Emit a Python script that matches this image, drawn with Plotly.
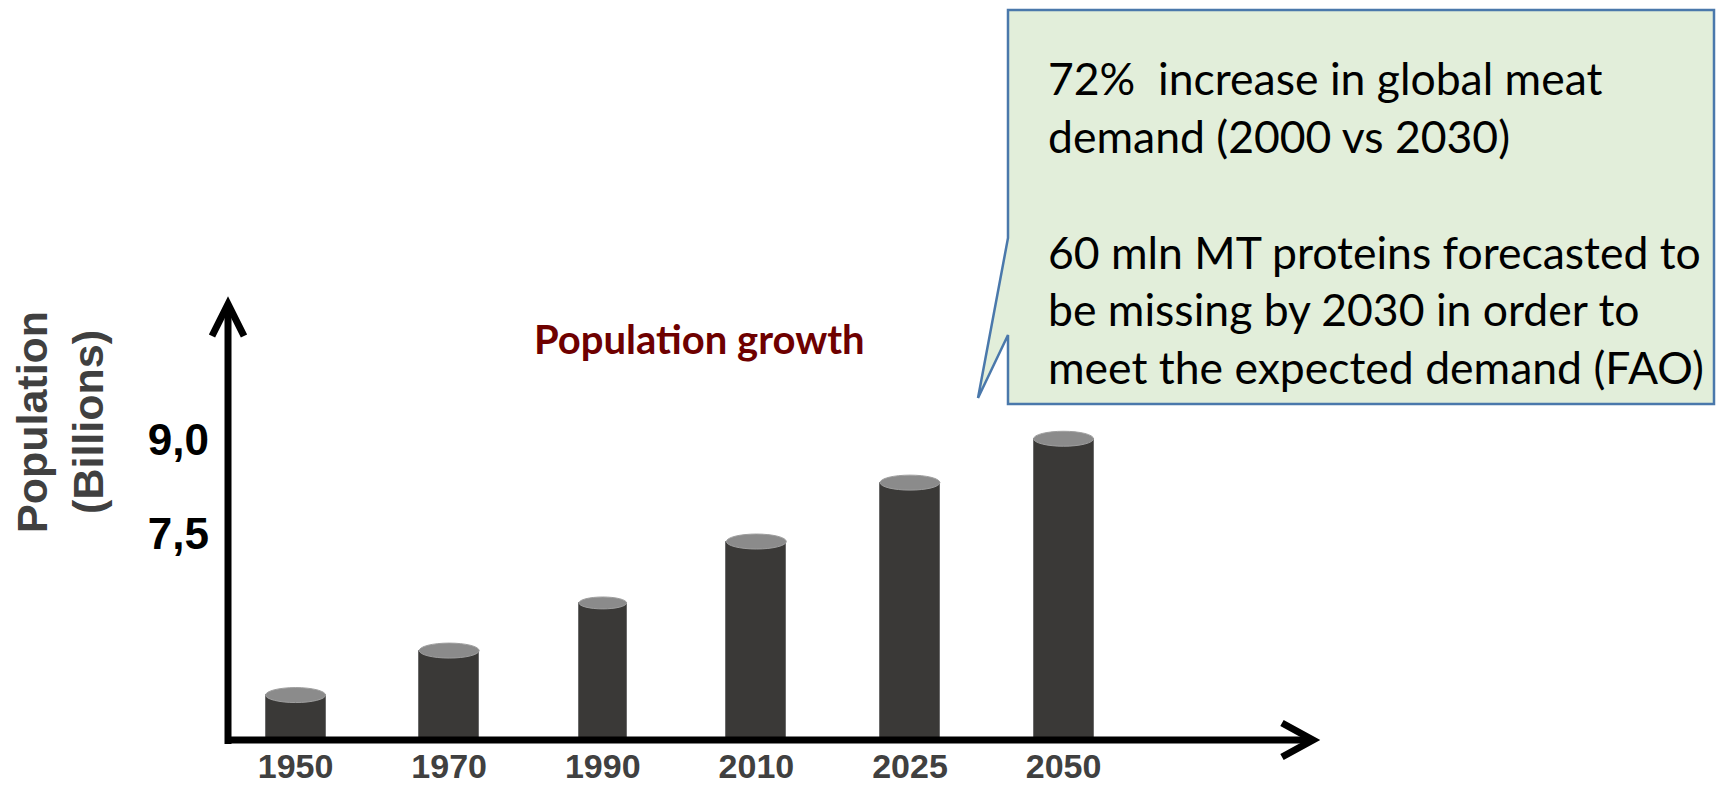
import plotly.graph_objects as go

# ---------------- data ----------------
years = ["1950", "1970", "1990", "2010", "2025", "2050"]
population = [4.93, 5.64, 6.40, 7.38, 8.32, 9.02]   # read on the chart's own (schematic) axis
ytick_vals = [7.5, 9.0]
ytick_text = ["7,5", "9,0"]
chart_title = "Population growth"
y_title_lines = ["Population", "(Billions)"]
callout_lines = [
    "72%\u00a0 increase in global meat",
    "demand (2000 vs 2030)",
    "",
    "60 mln MT proteins forecasted to",
    "be missing by 2030 in order to",
    "meet the expected demand (FAO)",
]

# ---------------- styles / layout geometry ----------------
PAGE_W, PAGE_H = 1724, 793
OFF = 8                                   # default body margin of the html page
W, H = PAGE_W - 2 * OFF, PAGE_H - 2 * OFF
bar_widths = [0.39, 0.39, 0.31, 0.39, 0.39, 0.39]
body_color = "#3a3937"
top_color = "#8b8b8b"

ax_left_px, ax_right_px = 228, 1315
ax_bottom_px, ax_top_px = 740, 303
x_range = [-0.440, 6.637]
y_range = [4.213, 11.186]

def px(x, y):
    """page pixel -> paper fraction"""
    return (x - OFF) / W, 1 - (y - OFF) / H

xpos = list(range(len(years)))

fig = go.Figure()
fig.add_trace(go.Bar(
    x=xpos, y=population, width=bar_widths,
    marker=dict(color=body_color, line=dict(color="#6a6a6a", width=1)),
    hoverinfo="skip",
))

x_ppu = (ax_right_px - ax_left_px) / (x_range[1] - x_range[0])
y_ppu = (ax_bottom_px - ax_top_px) / (y_range[1] - y_range[0])

shapes = []
for i, v in enumerate(population):
    w = bar_widths[i]
    half_h = 0.125 * w * x_ppu / y_ppu
    shapes.append(dict(type="circle", xref="x", yref="y",
                       x0=i - w / 2, x1=i + w / 2, y0=v - half_h, y1=v + half_h,
                       fillcolor=top_color, line=dict(color="#9e9e9e", width=1), layer="above"))

def path_px(points):
    s = ""
    for k, (x, y) in enumerate(points):
        fx, fy = px(x, y)
        s += ("M" if k == 0 else "L") + f"{fx:.5f},{fy:.5f} "
    return s.strip()

axis_style = dict(type="path", xref="paper", yref="paper", line=dict(color="black", width=7), layer="above")
shapes.append(dict(axis_style, path=path_px([(228, 744), (228, 305)])))
shapes.append(dict(axis_style, path=path_px([(225, 740), (1312, 740)])))
shapes.append(dict(axis_style, path=path_px([(212, 336), (228, 304), (244, 336)])))
shapes.append(dict(axis_style, path=path_px([(1282, 723), (1313, 740), (1282, 757)])))

callout = [(1008, 10), (1714, 10), (1714, 404), (1008, 404), (1008, 335), (978, 398), (1008, 238)]
shapes.append(dict(type="path", xref="paper", yref="paper",
                   path=path_px(callout) + " Z",
                   fillcolor="#e2eeda", line=dict(color="#4a78ab", width=2.5), layer="above"))

annotations = []
tx, ty = px(699, 339)
annotations.append(dict(x=tx, y=ty, xref="paper", yref="paper", showarrow=False,
                        text=f"<b>{chart_title}</b>", xanchor="center", yanchor="middle",
                        font=dict(family="Lato", size=40, color="#6e0000")))
yx, yy = px(60, 422)
annotations.append(dict(x=yx, y=yy, xref="paper", yref="paper", showarrow=False,
                        text="<br>".join(f"<b>{s}</b>" for s in y_title_lines), textangle=-90,
                        xanchor="center", yanchor="middle",
                        font=dict(family="Liberation Sans, Arial", size=43, color="#404040")))
cx, cy = px(1046, 222)
annotations.append(dict(x=cx, y=cy, xref="paper", yref="paper", showarrow=False,
                        text="<br>".join(l if l else " " for l in callout_lines), align="left",
                        xanchor="left", yanchor="middle",
                        font=dict(family="Lato", size=44.5, color="black")))

fig.update_layout(
    width=W, height=H, margin=dict(l=0, r=0, t=0, b=0),
    paper_bgcolor="white", plot_bgcolor="white", showlegend=False,
    shapes=shapes, annotations=annotations,
    xaxis=dict(domain=[(ax_left_px - OFF) / W, (ax_right_px - OFF) / W], range=x_range,
               tickvals=xpos, ticktext=years, showgrid=False, zeroline=False, showline=False,
               ticks="", ticklabelstandoff=3, automargin=False,
               tickfont=dict(family="Liberation Sans, Arial", size=34, color="#404040", weight="bold")),
    yaxis=dict(domain=[1 - (ax_bottom_px - OFF) / H, 1 - (ax_top_px - OFF) / H], range=y_range,
               tickvals=ytick_vals, ticktext=ytick_text, showgrid=False, zeroline=False,
               showline=False, ticks="", ticklabelstandoff=18, automargin=False,
               tickfont=dict(family="Liberation Sans, Arial", size=44, color="black", weight="bold")),
    bargap=0,
)

fig.write_html("out.html")
